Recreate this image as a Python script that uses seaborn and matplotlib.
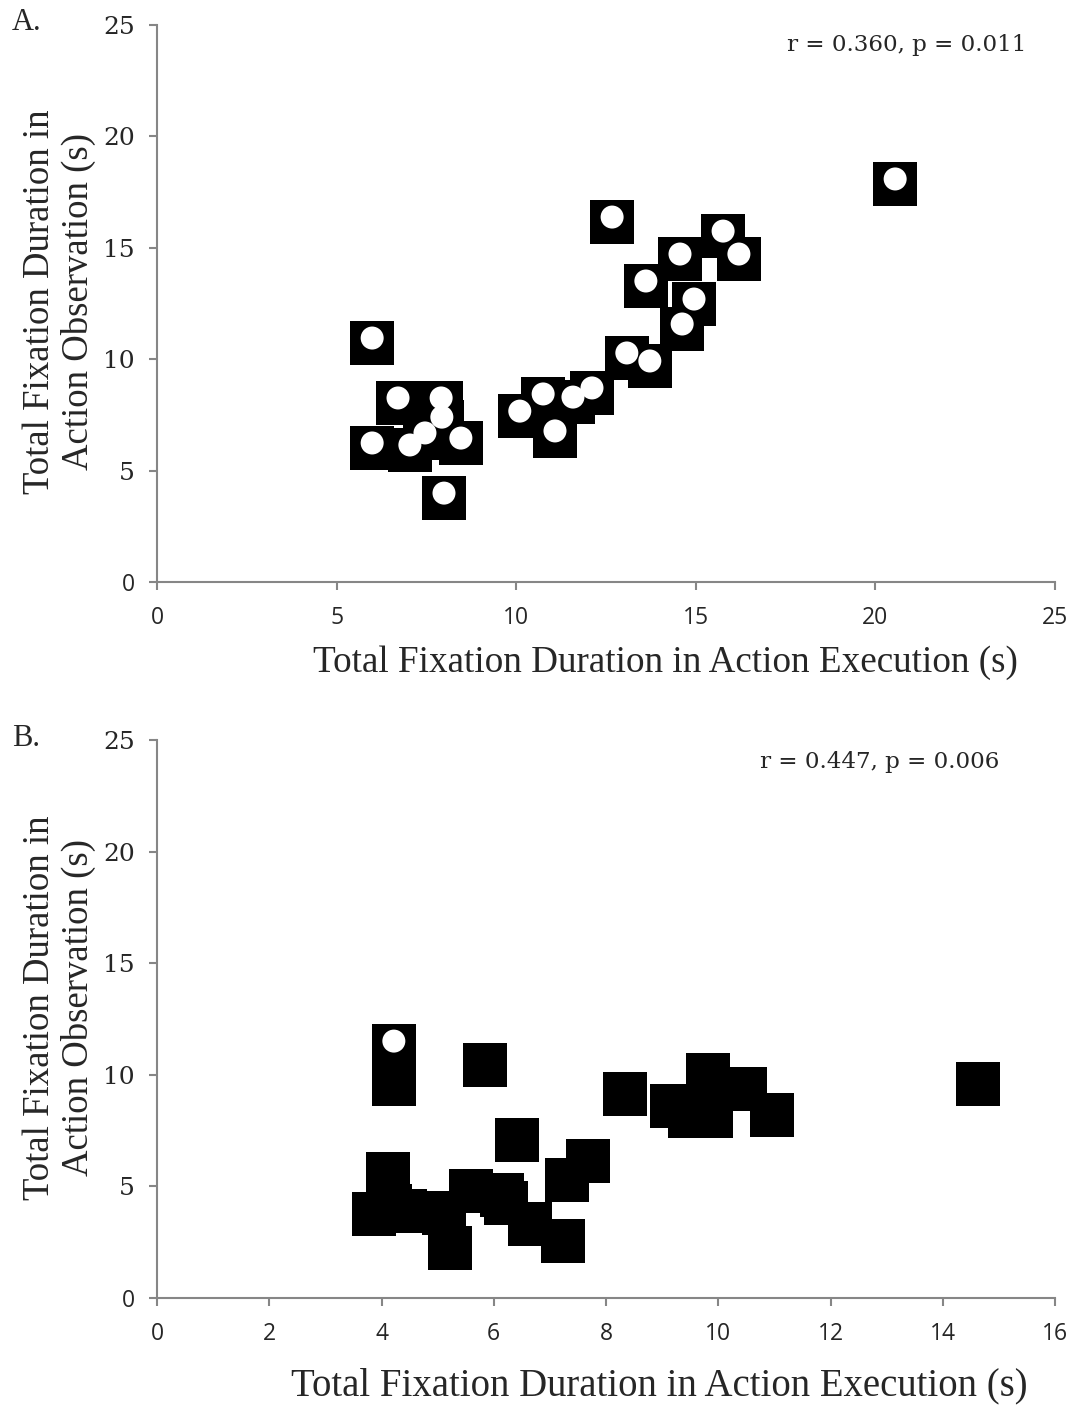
import numpy as np
import pandas as pd
import matplotlib
matplotlib.use("Agg")
import matplotlib.pyplot as plt
from matplotlib.path import Path
from matplotlib.markers import MarkerStyle
import seaborn as sns

# ---------------- data ----------------
# Panel A (execution vs observation)
a_exec = [5.99, 6.71, 7.91, 7.93, 7.46, 7.04, 5.99, 8.46, 7.99, 10.10, 10.75, 11.08,
          11.58, 12.11, 13.08, 13.72, 12.67, 15.76, 16.20, 14.56, 13.61, 14.95, 14.62, 20.55]
a_obs = [10.95, 8.26, 8.26, 7.40, 6.69, 6.15, 6.24, 6.46, 3.99, 7.67, 8.44, 6.78,
         8.30, 8.71, 10.28, 9.92, 16.38, 15.75, 14.72, 14.72, 13.51, 12.70, 11.58, 18.09]
a_label = "r = 0.360, p = 0.011"

# Panel B (squares)
b_exec = [4.22, 4.22, 5.84, 6.41, 7.68, 7.31, 4.12, 3.87, 4.15, 4.42, 5.11, 5.22, 5.59,
          6.15, 6.22, 6.65, 7.23, 8.34, 9.18, 9.82, 9.50, 10.48, 9.87, 10.96, 14.63]
b_obs = [11.29, 9.59, 10.44, 7.08, 6.14, 5.29, 5.56, 3.76, 4.12, 3.90, 3.81, 2.24, 4.79,
         4.61, 4.26, 3.32, 2.55, 9.14, 8.60, 9.99, 8.15, 9.36, 8.15, 8.20, 9.59]
# Panel B visible circle
b_circ_exec = [4.22]
b_circ_obs = [11.51]
b_label = "r = 0.447, p = 0.006"

a_xticks = [0, 5, 10, 15, 20, 25]
b_xticks = [0, 2, 4, 6, 8, 10, 12, 14, 16]
yticks = [0, 5, 10, 15, 20, 25]

xlabel = "Total Fixation Duration in Action Execution (s)"
ylabel = "Total Fixation Duration in\nAction Observation (s)"

# ---------------- style ----------------
sns.set_style("white")
plt.rcParams["font.family"] = ["DejaVu Sans"]

W, H, DPI = 1082, 1407, 100
fig = plt.figure(figsize=(W / DPI, H / DPI), dpi=DPI)

axA = fig.add_axes([157 / W, 1 - 582 / H, 898 / W, 557 / H])
axB = fig.add_axes([157 / W, 1 - 1298 / H, 898 / W, 558 / H])

# square marker slightly below the point (circle sits in upper part of square)
off = 0.227
sq_path = Path([(-1, -1 - off), (1, -1 - off), (1, 1 - off), (-1, 1 - off), (-1, -1 - off)],
               [Path.MOVETO, Path.LINETO, Path.LINETO, Path.LINETO, Path.CLOSEPOLY])
sq_marker = MarkerStyle(sq_path)
side_pt = 44 * 72 / DPI
s_sq = (side_pt / (1 / (1 + off))) ** 2
circ_pt = 23 * 72 / DPI
s_circ = circ_pt ** 2

grey = "#868686"

def style_axis(ax, xmax, xticks):
    ax.set_xlim(0, xmax)
    ax.set_ylim(0, 25)
    ax.set_xticks(xticks)
    ax.set_yticks(yticks)
    for side in ["top", "right"]:
        ax.spines[side].set_visible(False)
    for side in ["left", "bottom"]:
        ax.spines[side].set_color(grey)
        ax.spines[side].set_linewidth(1.5)
    ax.tick_params(axis="both", which="major", direction="out", length=6, width=1.5,
                   color=grey, left=True, bottom=True)
    ax.tick_params(axis="y", pad=10)
    ax.tick_params(axis="x", pad=11)
    ax.set_xticklabels([str(t) for t in xticks], fontfamily="Open Sans", fontsize=16.5)
    ylabs = ax.set_yticklabels([str(t) for t in yticks], fontfamily="DejaVu Serif", fontsize=18)
    ylabs[0].set_fontfamily("Open Sans")
    ylabs[0].set_fontsize(16.5)
    ax.set_xlabel("")
    ax.set_ylabel("")
    ax.set_facecolor("white")

# Panel A
dfA = pd.DataFrame({"exec": a_exec, "obs": a_obs})
sns.scatterplot(data=dfA, x="exec", y="obs", ax=axA, marker=sq_marker, s=s_sq,
                color="black", edgecolor="none", linewidth=0, zorder=3, clip_on=False)
sns.scatterplot(data=dfA, x="exec", y="obs", ax=axA, marker="o", s=s_circ,
                color="white", edgecolor="none", linewidth=0, zorder=4, clip_on=False)
style_axis(axA, 25, a_xticks)

# Panel B
dfB = pd.DataFrame({"exec": b_exec, "obs": b_obs})
dfBc = pd.DataFrame({"exec": b_circ_exec, "obs": b_circ_obs})
sns.scatterplot(data=dfB, x="exec", y="obs", ax=axB, marker="s", s=side_pt ** 2,
                color="black", edgecolor="none", linewidth=0, zorder=3, clip_on=False)
sns.scatterplot(data=dfBc, x="exec", y="obs", ax=axB, marker="o", s=s_circ,
                color="white", edgecolor="none", linewidth=0, zorder=4, clip_on=False)
style_axis(axB, 16, b_xticks)

# annotations
fig.text(907 / W, 1 - 45 / H, a_label, ha="center", va="center",
         fontfamily="DejaVu Serif", fontsize=16.6)
fig.text(880 / W, 1 - 762 / H, b_label, ha="center", va="center",
         fontfamily="DejaVu Serif", fontsize=16.6)

# panel letters
fig.text(12 / W, 1 - 23 / H, "A.", ha="left", va="center",
         fontfamily="Liberation Serif", fontsize=22)
fig.text(12 / W, 1 - 738 / H, "B.", ha="left", va="center",
         fontfamily="Liberation Serif", fontsize=22)

# axis titles
fig.text(665 / W, 1 - 663 / H, xlabel, ha="center", va="center",
         fontfamily="Liberation Serif", fontsize=26.7)
fig.text(659 / W, 1 - 1386 / H, xlabel, ha="center", va="center",
         fontfamily="Liberation Serif", fontsize=27.9)
fig.text(59 / W, 1 - 302 / H, ylabel, ha="center", va="center", rotation=90,
         multialignment="center", linespacing=1.15,
         fontfamily="Liberation Serif", fontsize=26.5)
fig.text(59 / W, 1 - 1008 / H, ylabel, ha="center", va="center", rotation=90,
         multialignment="center", linespacing=1.15,
         fontfamily="Liberation Serif", fontsize=26.5)

fig.savefig("out.png", dpi=DPI, facecolor="white")
